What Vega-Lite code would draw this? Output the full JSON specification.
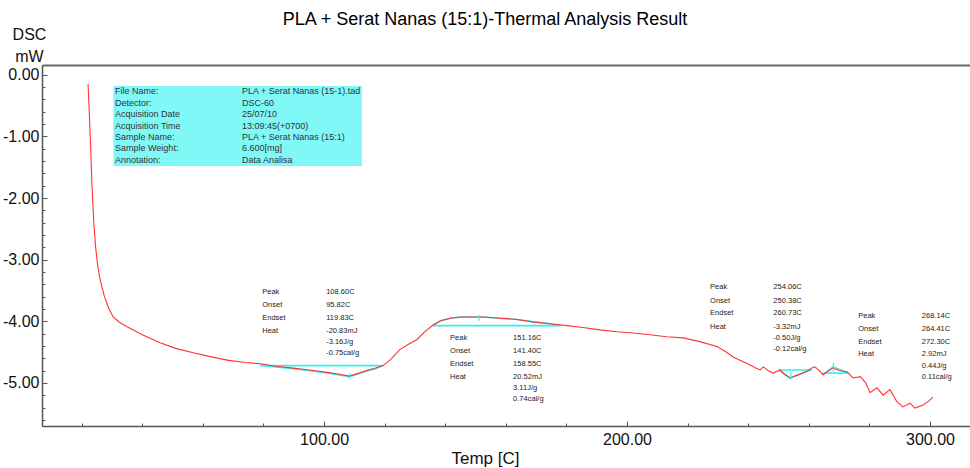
{
  "$schema": "https://vega.github.io/schema/vega-lite/v6.json",
  "width": 928,
  "height": 361,
  "autosize": {"type": "none"},
  "padding": {"left": 42, "top": 65, "right": 0, "bottom": 42},
  "background": "white",
  "config": {
    "view": {"stroke": null},
    "font": "Liberation Sans",
    "axis": {"grid": false, "labelFont": "Liberation Sans", "titleFont": "Liberation Sans"}
  },
  "title": {
    "text": "PLA + Serat Nanas (15:1)-Thermal Analysis Result",
    "anchor": "middle",
    "frame": "group",
    "dx": -21,
    "fontSize": 18,
    "font": "Liberation Sans",
    "fontWeight": "normal",
    "color": "#000000",
    "baseline": "alphabetic",
    "offset": -17
  },
  "datasets": {
    "curve": [
      {"t": 22.1, "v": -0.15}, {"t": 22.5, "v": -0.6}, {"t": 22.9, "v": -1.1}, {"t": 23.4, "v": -1.8},
      {"t": 24.0, "v": -2.4}, {"t": 24.6, "v": -2.8}, {"t": 25.3, "v": -3.1}, {"t": 26.1, "v": -3.33},
      {"t": 27.5, "v": -3.6}, {"t": 29.0, "v": -3.8}, {"t": 30.4, "v": -3.93}, {"t": 32.5, "v": -4.02},
      {"t": 35.0, "v": -4.09}, {"t": 40.0, "v": -4.22}, {"t": 45.9, "v": -4.35}, {"t": 51.0, "v": -4.44},
      {"t": 56.8, "v": -4.51}, {"t": 62.0, "v": -4.57}, {"t": 68.0, "v": -4.63}, {"t": 74.0, "v": -4.67},
      {"t": 79.0, "v": -4.69}, {"t": 84.0, "v": -4.73}, {"t": 89.9, "v": -4.76}, {"t": 95.0, "v": -4.79},
      {"t": 101.0, "v": -4.83}, {"t": 105.0, "v": -4.86}, {"t": 108.3, "v": -4.89}, {"t": 111.0, "v": -4.85},
      {"t": 114.0, "v": -4.8}, {"t": 117.0, "v": -4.76}, {"t": 119.5, "v": -4.72}, {"t": 122.0, "v": -4.62},
      {"t": 125.0, "v": -4.46}, {"t": 128.0, "v": -4.37}, {"t": 130.6, "v": -4.3}, {"t": 133.0, "v": -4.18},
      {"t": 136.0, "v": -4.06}, {"t": 138.5, "v": -3.99}, {"t": 141.6, "v": -3.95}, {"t": 145.0, "v": -3.93},
      {"t": 152.5, "v": -3.93}, {"t": 158.0, "v": -3.95}, {"t": 163.7, "v": -3.97}, {"t": 169.0, "v": -4.01},
      {"t": 174.6, "v": -4.04}, {"t": 180.0, "v": -4.07}, {"t": 185.5, "v": -4.1}, {"t": 191.0, "v": -4.14},
      {"t": 196.7, "v": -4.17}, {"t": 202.0, "v": -4.19}, {"t": 207.6, "v": -4.22}, {"t": 213.0, "v": -4.25},
      {"t": 218.5, "v": -4.27}, {"t": 224.0, "v": -4.33}, {"t": 229.7, "v": -4.41}, {"t": 232.5, "v": -4.49},
      {"t": 235.0, "v": -4.58}, {"t": 238.0, "v": -4.65}, {"t": 240.6, "v": -4.71}, {"t": 242.5, "v": -4.76},
      {"t": 243.9, "v": -4.79}, {"t": 245.0, "v": -4.74}, {"t": 246.5, "v": -4.8}, {"t": 248.2, "v": -4.84},
      {"t": 250.5, "v": -4.79}, {"t": 252.0, "v": -4.86}, {"t": 253.8, "v": -4.92}, {"t": 256.5, "v": -4.87},
      {"t": 259.4, "v": -4.81}, {"t": 261.0, "v": -4.76}, {"t": 262.0, "v": -4.74}, {"t": 263.5, "v": -4.8},
      {"t": 264.7, "v": -4.87}, {"t": 266.5, "v": -4.8}, {"t": 268.0, "v": -4.76}, {"t": 270.0, "v": -4.8},
      {"t": 272.6, "v": -4.82}, {"t": 274.6, "v": -4.92}, {"t": 277.0, "v": -4.9}, {"t": 278.8, "v": -5.0},
      {"t": 280.2, "v": -5.16}, {"t": 282.5, "v": -5.08}, {"t": 284.5, "v": -5.2}, {"t": 286.8, "v": -5.11},
      {"t": 289.0, "v": -5.3}, {"t": 291.0, "v": -5.39}, {"t": 293.4, "v": -5.33}, {"t": 295.0, "v": -5.41},
      {"t": 297.7, "v": -5.36}, {"t": 299.5, "v": -5.3}, {"t": 301.0, "v": -5.23}
    ],
    "cyan": [
      {"seg": "b1", "t": 78.9, "v": -4.72}, {"seg": "b1", "t": 119.5, "v": -4.72},
      {"seg": "b2", "t": 136.0, "v": -4.07}, {"seg": "b2", "t": 178.0, "v": -4.07},
      {"seg": "b3", "t": 250.0, "v": -4.79}, {"seg": "b3", "t": 261.0, "v": -4.79},
      {"seg": "b4", "t": 264.7, "v": -4.84}, {"seg": "b4", "t": 273.0, "v": -4.84},
      {"seg": "c1", "t": 78.9, "v": -4.71}, {"seg": "c1", "t": 84.0, "v": -4.74}, {"seg": "c1", "t": 89.9, "v": -4.77},
      {"seg": "c1", "t": 95.0, "v": -4.8}, {"seg": "c1", "t": 101.0, "v": -4.84}, {"seg": "c1", "t": 105.0, "v": -4.87},
      {"seg": "c1", "t": 108.3, "v": -4.9}, {"seg": "c1", "t": 111.0, "v": -4.86}, {"seg": "c1", "t": 114.0, "v": -4.81},
      {"seg": "c1", "t": 117.0, "v": -4.77}, {"seg": "c1", "t": 119.5, "v": -4.72},
      {"seg": "c2", "t": 136.0, "v": -4.06}, {"seg": "c2", "t": 138.5, "v": -3.99}, {"seg": "c2", "t": 141.6, "v": -3.95},
      {"seg": "c2", "t": 145.0, "v": -3.93}, {"seg": "c2", "t": 152.5, "v": -3.93}, {"seg": "c2", "t": 158.0, "v": -3.95},
      {"seg": "c2", "t": 163.7, "v": -3.97}, {"seg": "c2", "t": 169.0, "v": -4.01}, {"seg": "c2", "t": 174.6, "v": -4.04},
      {"seg": "c2", "t": 178.0, "v": -4.07},
      {"seg": "c3", "t": 250.0, "v": -4.79}, {"seg": "c3", "t": 252.0, "v": -4.86}, {"seg": "c3", "t": 253.8, "v": -4.92},
      {"seg": "c3", "t": 256.5, "v": -4.87}, {"seg": "c3", "t": 259.4, "v": -4.81}, {"seg": "c3", "t": 261.0, "v": -4.79},
      {"seg": "c4", "t": 264.7, "v": -4.86}, {"seg": "c4", "t": 266.5, "v": -4.8}, {"seg": "c4", "t": 268.0, "v": -4.74},
      {"seg": "c4", "t": 270.0, "v": -4.78}, {"seg": "c4", "t": 273.0, "v": -4.84}
    ],
    "peaks": [
      {"t": 108.6, "v1": -4.84, "v2": -4.93},
      {"t": 151.16, "v1": -3.9, "v2": -3.99},
      {"t": 254.06, "v1": -4.82, "v2": -4.95},
      {"t": 268.14, "v1": -4.68, "v2": -4.82}
    ],
    "box": [{"t1": 30.46, "t2": 112.5, "v1": -0.18, "v2": -1.48}],
    "info": [
      {"t": 31.0, "v": -0.27, "label": "File Name:"},
      {"t": 31.0, "v": -0.455, "label": "Detector:"},
      {"t": 31.0, "v": -0.64, "label": "Acquisition Date"},
      {"t": 31.0, "v": -0.825, "label": "Acquisition Time"},
      {"t": 31.0, "v": -1.01, "label": "Sample Name:"},
      {"t": 31.0, "v": -1.195, "label": "Sample Weight:"},
      {"t": 31.0, "v": -1.38, "label": "Annotation:"},
      {"t": 72.9, "v": -0.27, "label": "PLA + Serat Nanas (15-1).tad"},
      {"t": 72.9, "v": -0.455, "label": "DSC-60"},
      {"t": 72.9, "v": -0.64, "label": "25/07/10"},
      {"t": 72.9, "v": -0.825, "label": "13:09:45(+0700)"},
      {"t": 72.9, "v": -1.01, "label": "PLA + Serat Nanas (15:1)"},
      {"t": 72.9, "v": -1.195, "label": "6.600[mg]"},
      {"t": 72.9, "v": -1.38, "label": "Data Analisa"}
    ],
    "ann": [
      {"t": 79.6, "v": -3.518, "label": "Peak"},
      {"t": 79.6, "v": -3.734, "label": "Onset"},
      {"t": 79.6, "v": -3.94, "label": "Endset"},
      {"t": 79.6, "v": -4.151, "label": "Heat"},
      {"t": 100.7, "v": -3.518, "label": "108.60C"},
      {"t": 100.7, "v": -3.734, "label": "95.82C"},
      {"t": 100.7, "v": -3.94, "label": "119.83C"},
      {"t": 100.7, "v": -4.151, "label": "-20.83mJ"},
      {"t": 100.7, "v": -4.334, "label": "-3.16J/g"},
      {"t": 100.7, "v": -4.508, "label": "-0.75cal/g"},
      {"t": 141.6, "v": -4.265, "label": "Peak"},
      {"t": 141.6, "v": -4.476, "label": "Onset"},
      {"t": 141.6, "v": -4.692, "label": "Endset"},
      {"t": 141.6, "v": -4.903, "label": "Heat"},
      {"t": 162.4, "v": -4.265, "label": "151.16C"},
      {"t": 162.4, "v": -4.476, "label": "141.40C"},
      {"t": 162.4, "v": -4.692, "label": "158.55C"},
      {"t": 162.4, "v": -4.903, "label": "20.52mJ"},
      {"t": 162.4, "v": -5.081, "label": "3.11J/g"},
      {"t": 162.4, "v": -5.26, "label": "0.74cal/g"},
      {"t": 227.4, "v": -3.446, "label": "Peak"},
      {"t": 227.4, "v": -3.664, "label": "Onset"},
      {"t": 227.4, "v": -3.869, "label": "Endset"},
      {"t": 227.4, "v": -4.086, "label": "Heat"},
      {"t": 248.3, "v": -3.446, "label": "254.06C"},
      {"t": 248.3, "v": -3.664, "label": "250.38C"},
      {"t": 248.3, "v": -3.869, "label": "260.73C"},
      {"t": 248.3, "v": -4.086, "label": "-3.32mJ"},
      {"t": 248.3, "v": -4.274, "label": "-0.50J/g"},
      {"t": 248.3, "v": -4.453, "label": "-0.12cal/g"},
      {"t": 276.3, "v": -3.912, "label": "Peak"},
      {"t": 276.3, "v": -4.128, "label": "Onset"},
      {"t": 276.3, "v": -4.334, "label": "Endset"},
      {"t": 276.3, "v": -4.534, "label": "Heat"},
      {"t": 297.3, "v": -3.912, "label": "268.14C"},
      {"t": 297.3, "v": -4.128, "label": "264.41C"},
      {"t": 297.3, "v": -4.334, "label": "272.30C"},
      {"t": 297.3, "v": -4.534, "label": "2.92mJ"},
      {"t": 297.3, "v": -4.724, "label": "0.44J/g"},
      {"t": 297.3, "v": -4.907, "label": "0.11cal/g"}
    ]
  },
  "resolve": {"scale": {"x": "shared", "y": "shared"}, "axis": {"x": "independent", "y": "independent"}},
  "layer": [
    {
      "data": {"name": "box"},
      "mark": {"type": "rect", "fill": "#80f8f8", "stroke": null},
      "encoding": {
        "x": {"field": "t1", "type": "quantitative", "scale": {"domain": [6.9, 313.2], "nice": false, "zero": false},
          "axis": {"orient": "top", "labels": false, "ticks": false, "title": null, "domainColor": "#6a6a6a", "domainWidth": 2}},
        "x2": {"field": "t2"},
        "y": {"field": "v1", "type": "quantitative", "scale": {"domain": [-5.7, 0.16], "nice": false, "zero": false}, "axis": null},
        "y2": {"field": "v2"}
      }
    },
    {
      "data": {"name": "info"},
      "mark": {"type": "text", "align": "left", "baseline": "middle", "fontSize": 9, "font": "Liberation Sans", "color": "#333333"},
      "encoding": {
        "x": {"field": "t", "type": "quantitative", "axis": null},
        "y": {"field": "v", "type": "quantitative", "axis": null},
        "text": {"field": "label"}
      }
    },
    {
      "data": {"name": "cyan"},
      "mark": {"type": "line", "color": "#33eeee", "strokeWidth": 1.6},
      "encoding": {
        "x": {"field": "t", "type": "quantitative", "axis": null},
        "y": {"field": "v", "type": "quantitative", "axis": null},
        "detail": {"field": "seg"},
        "order": {"field": "t"}
      }
    },
    {
      "data": {"name": "curve"},
      "mark": {"type": "line", "color": "#ff3333", "strokeWidth": 1.1},
      "encoding": {
        "x": {"field": "t", "type": "quantitative",
          "axis": {
            "orient": "bottom",
            "values": [20, 40, 60, 80, 100, 120, 140, 160, 180, 200, 220, 240, 260, 280, 300],
            "labelExpr": "datum.value % 100 === 0 ? format(datum.value, '.2f') : ''",
            "labelOverlap": false,
            "labelFlush": false,
            "labelFontSize": 16,
            "labelColor": "#111111",
            "labelPadding": 10,
            "domainColor": "#555555",
            "domainWidth": 1.5,
            "tickColor": "#555555",
            "tickSize": {"condition": {"test": "datum.value % 100 === 0", "value": -5}, "value": -3},
            "title": "Temp  [C]",
            "titleFontSize": 17,
            "titleFontWeight": "normal",
            "titleColor": "#111111",
            "titleX": 443,
            "titleY": 37,
            "titleAlign": "center",
            "titleBaseline": "alphabetic"
          }},
        "y": {"field": "v", "type": "quantitative",
          "axis": {
            "values": [-5.6, -5.4, -5.2, -5.0, -4.8, -4.6, -4.4, -4.2, -4.0, -3.8, -3.6, -3.4, -3.2, -3.0, -2.8, -2.6, -2.4, -2.2, -2.0, -1.8, -1.6, -1.4, -1.2, -1.0, -0.8, -0.6, -0.4, -0.2, 0],
            "labelExpr": "abs(datum.value - round(datum.value)) < 0.001 ? replace(format(datum.value, '.2f'), '\u2212', '-') : ''",
            "labelOverlap": false,
            "labelFlush": false,
            "labelFontSize": 16,
            "labelColor": "#111111",
            "labelPadding": 8,
            "domainColor": "#555555",
            "domainWidth": 1.5,
            "tickColor": "#555555",
            "tickSize": {"condition": {"test": "abs(datum.value - round(datum.value)) < 0.001", "value": -5}, "value": -3},
            "title": ["DSC", "mW"],
            "titleAngle": 0,
            "titleFontSize": 16,
            "titleFontWeight": "normal",
            "titleColor": "#111111",
            "titleX": -13,
            "titleY": -26,
            "titleAlign": "center",
            "titleBaseline": "alphabetic",
            "titleLineHeight": 22
          }},
        "order": {"field": "t"}
      }
    },
    {
      "data": {"name": "peaks"},
      "mark": {"type": "rule", "color": "#33eeee", "strokeWidth": 1.2},
      "encoding": {
        "x": {"field": "t", "type": "quantitative", "axis": null},
        "y": {"field": "v1", "type": "quantitative", "axis": null},
        "y2": {"field": "v2"}
      }
    },
    {
      "data": {"name": "ann"},
      "mark": {"type": "text", "align": "left", "baseline": "middle", "fontSize": 7.5, "font": "Liberation Sans", "color": "#222222"},
      "encoding": {
        "x": {"field": "t", "type": "quantitative", "axis": null},
        "y": {"field": "v", "type": "quantitative", "axis": null},
        "text": {"field": "label"}
      }
    }
  ]
}
